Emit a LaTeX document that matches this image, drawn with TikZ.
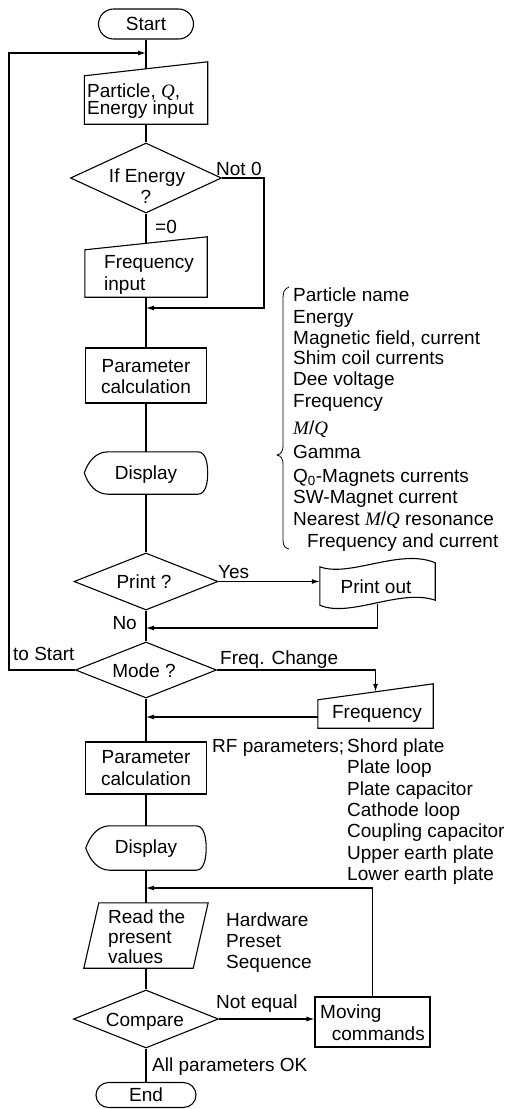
\documentclass[tikz,border=0pt]{standalone}
\usepackage{fontspec}
\setmainfont{Liberation Sans}
\newfontfamily\serfont{Liberation Serif}
\usetikzlibrary{shapes.geometric,arrows.meta,calc}
\newcommand\diafont{\fontsize{19}{22}\selectfont}
\newcommand\vq{{\serfont\itshape Q}}
\newcommand\vm{{\serfont\itshape M}}
\newcommand\dispshape[1]{%
  \draw[ln] (#1.west) .. controls ($(#1.west)+(4,-12)$) and ($(#1.north west)+(12,0)$) .. ($(#1.north west)+(24,0)$)
    -- ($(#1.north east)+(-10,0)$) .. controls ($(#1.north east)+(-2,0)$) and ($(#1.east)+(0,-10)$) .. (#1.east)
    .. controls ($(#1.east)+(0,10)$) and ($(#1.south east)+(-2,0)$) .. ($(#1.south east)+(-10,0)$)
    -- ($(#1.south west)+(24,0)$) .. controls ($(#1.south west)+(12,0)$) and ($(#1.west)+(4,12)$) .. (#1.west) -- cycle;}
\newcommand\manshape[2]{%
  \draw[ln] (#1.south west) -- (#1.south east) -- ($(#1.north east)+(0,-#2)$) -- ($(#1.north west)+(0,#2)$) -- cycle;}
\begin{document}
\begin{tikzpicture}[x=1pt,y=-1pt,font=\diafont,
  ln/.style={line width=1.1pt},
  arr/.style={ln,-{Latex[length=8pt,width=5pt]}},
  term/.style={draw,ln,rectangle,inner sep=0pt},
  box/.style={draw,ln,rectangle,inner sep=0pt},
  dia/.style={draw,ln,diamond,inner sep=0pt},
  ghost/.style={rectangle,inner sep=0pt},
  txt/.style={inner sep=0pt,anchor=base},
  txtl/.style={inner sep=0pt,anchor=base west},
  txtr/.style={inner sep=0pt,anchor=base east}]
\useasboundingbox (0,0) rectangle (504,1109);

% ---- main column ----
\node[term,rounded corners=15pt,minimum width=95pt,minimum height=30pt] (start) at (146,24) {Start};

\node[ghost,minimum width=123pt,minimum height=55pt] (pin) at (146,96.5) {};
\manshape{pin}{7}
\node[txtl] (pinA) at (87,97) {Particle, \vq,};
\node[txtl] (pinB) at (87,114) {Energy input};

\node[dia,minimum width=151pt,minimum height=70pt] (en) at (146,178) {};
\node[txt] (enA) at (147,182) {If Energy};
\node[txt] (enB) at (146,203) {?};
\node[txtl] (nz) at (216,175) {Not 0};
\node[txtl] (eq0) at (155,233) {=0};

\node[ghost,minimum width=122pt,minimum height=53.5pt] (fin) at (146,270.25) {};
\manshape{fin}{6.5}
\node[txtl] (finA) at (104,268) {Frequency};
\node[txtl] (finB) at (104,290) {input};

\node[box,minimum width=121pt,minimum height=55pt] (pc1) at (146,375.5) {};
\node[txt] (pc1A) at (146,372) {Parameter};
\node[txt] (pc1B) at (146,393) {calculation};

\node[ghost,minimum width=123pt,minimum height=42pt] (d1) at (146,473) {};
\dispshape{d1}
\node[txt] (d1A) at (146,479) {Display};

\node[dia,minimum width=144pt,minimum height=57pt] (pr) at (146,581.5) {};
\node[txt] (prA) at (144,588) {Print ?};
\node[txtl] (yes) at (218,578) {Yes};

\node[ghost,minimum width=115pt,minimum height=40pt] (po) at (377.5,584) {};
\draw[ln] ($(po.north west)+(0,3)$) .. controls ($(po.north west)+(30,14)$) and ($(po.north east)+(-35,-16)$) .. ($(po.north east)+(0,-1)$)
  -- ($(po.south east)+(0,-4)$) .. controls ($(po.south east)+(-35,-16)$) and ($(po.south west)+(30,14)$) .. ($(po.south west)+(0,1)$) -- cycle;
\node[txt] (poA) at (376,593) {Print out};

\coordinate (noJ) at (146,628);
\node[txtr] (no) at (137,629) {No};

\node[dia,minimum width=141pt,minimum height=56pt] (mode) at (146,670) {};
\node[txt] (modeA) at (144,677) {Mode ?};
\node[txtl] (toS) at (13,660) {to Start};
\node[txtl] (fc) at (220,664) {Freq. Change};
\coordinate (lft) at (9,53);
\coordinate (topJ) at (146,53);

\node[ghost,minimum width=115pt,minimum height=36pt] (fq) at (375.5,710) {};
\manshape{fq}{8}
\node[txt] (fqA) at (377,718) {Frequency};
\coordinate (fqJ) at (146,717);

\node[box,minimum width=121pt,minimum height=52pt] (pc2) at (146,768) {};
\node[txt] (pc2A) at (146,763) {Parameter};
\node[txt] (pc2B) at (146,785) {calculation};

\node[txtl] (rf) at (212,752) {RF parameters;};
\node[txtl] (rf1) at (347,752) {Shord plate};
\node[txtl] (rf2) at (347,773) {Plate loop};
\node[txtl] (rf3) at (347,795) {Plate capacitor};
\node[txtl] (rf4) at (347,816) {Cathode loop};
\node[txtl] (rf5) at (347,837) {Coupling capacitor};
\node[txtl] (rf6) at (347,859) {Upper earth plate};
\node[txtl] (rf7) at (347,880) {Lower earth plate};

\node[ghost,minimum width=120pt,minimum height=44pt] (d2) at (146,848) {};
\dispshape{d2}
\node[txt] (d2A) at (146,853) {Display};
\coordinate (mvJ) at (146,888);

\node[ghost,minimum width=109pt,minimum height=65pt] (rd) at (146,935.5) {};
\draw[ln] ($(rd.north west)+(7.5,0)$) -- ($(rd.north east)+(7.5,0)$) -- ($(rd.south east)+(-7.5,0)$) -- ($(rd.south west)+(-7.5,0)$) -- cycle;
\node[txtl] (rdA) at (108,923) {Read the};
\node[txtl] (rdB) at (108,943) {present};
\node[txtl] (rdC) at (108,963) {values};

\node[txtl] (hw1) at (226,926) {Hardware};
\node[txtl] (hw2) at (226,947) {Preset};
\node[txtl] (hw3) at (226,968) {Sequence};

\node[dia,minimum width=145pt,minimum height=58pt] (cmp) at (146,1019) {};
\node[txt] (cmpA) at (145,1026) {Compare};
\node[txtl] (neq) at (216,1008) {Not equal};

\node[box,minimum width=115pt,minimum height=50pt] (mv) at (372.5,1022) {};
\node[txtl] (mvA) at (320,1018) {Moving};
\node[txtr] (mvB) at (425,1040) {commands};

\node[txtl] (ok) at (152,1071) {All parameters OK};
\node[term,rounded corners=12.5pt,minimum width=100pt,minimum height=25pt] (end) at (146,1095) {End};

% ---- right list ----
\node[txtl] (l1) at (293,301) {Particle name};
\node[txtl] (l2) at (293,323) {Energy};
\node[txtl] (l3) at (293,344) {Magnetic field, current};
\node[txtl] (l4) at (293,364) {Shim coil currents};
\node[txtl] (l5) at (293,385) {Dee voltage};
\node[txtl] (l6) at (293,407) {Frequency};
\node[txtl] (l7) at (293,434) {\vm/\vq};
\node[txtl] (l8) at (293,458) {Gamma};
\node[txtl] (l9) at (293,482) {Q\textsubscript{0}-Magnets currents};
\node[txtl] (l10) at (293,503) {SW-Magnet current};
\node[txtl] (l11) at (293,525) {Nearest \vm/\vq\ resonance};
\node[txtl] (l12) at (307,547) {Frequency and current};
\draw[line width=0.8pt] (289,287) .. controls (284,289) and (283,292) .. (283,300) -- (283,445)
  .. controls (283,452) and (281,454) .. (277,455) .. controls (281,456) and (283,458) .. (283,465)
  -- (283,540) .. controls (283,546) and (285,548) .. (289,549);

% ---- connectors ----
\draw[ln] (start.south) -- (pin.north);
\draw[ln] (pin.south) -- (en.north);
\draw[ln] (en.south) -- (fin.north);
\draw[ln] (fin.south) -- (pc1.north);
\draw[ln] (pc1.south) -- (d1.north);
\draw[ln] (d1.south) -- (pr.north);
\draw[ln] (pr.south) -- (mode.north);
\draw[ln] (mode.south) -- (pc2.north);
\draw[ln] (pc2.south) -- (d2.north);
\draw[ln] (d2.south) -- (rd.north);
\draw[ln] (rd.south) -- (cmp.north);
\draw[ln] (cmp.south) -- (end.north);

\coordinate (nzC) at (264,178);
\coordinate (nzJ) at (146,308);
\draw[arr] (en.east) -- (nzC) |- (nzJ);
\draw[arr] (pr.east) -- (pr.east -| po.west);
\draw[arr] (po.south) |- (noJ);
\draw[arr] (mode.west) -| (lft) -- (topJ);
\draw[arr] (mode.east) -| (fq.north);
\draw[arr] (fq.west |- fqJ) -- (fqJ);
\draw[arr] (cmp.east) -- (cmp.east -| mv.west);
\draw[arr] (mv.north) |- (mvJ);
\end{tikzpicture}
\end{document}
